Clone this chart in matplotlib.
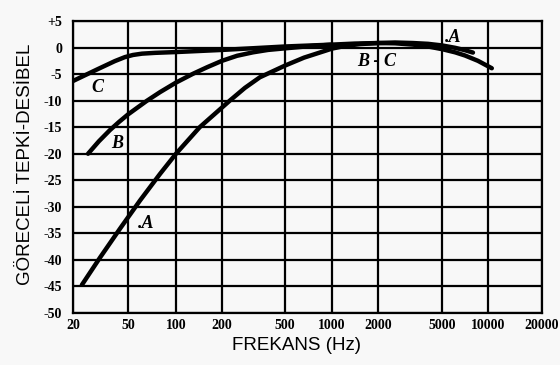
import matplotlib
matplotlib.use("Agg")
import numpy as np
import matplotlib.pyplot as plt
from matplotlib.ticker import FixedLocator, NullLocator

# x ticks (Hz) and y ticks (dB)
freq_ticks = [20, 50, 100, 200, 500, 1000, 2000, 5000, 10000, 20000]
freq_labels = ["20", "50", "100", "200", "500", "1000", "2000", "5000", "10000", "20000"]
db_ticks = [5, 0, -5, -10, -15, -20, -25, -30, -35, -40, -45, -50]
db_labels = ["+5", "0", "-5", "-10", "-15", "-20", "-25", "-30", "-35", "-40", "-45", "-50"]

# curve A
freq_a = [23.2, 31.3, 43.8, 59.5, 79.4, 100, 143, 224, 279, 347, 500, 662, 1000,
          1216, 1525, 2000, 2550, 3300, 4090, 5000, 6090, 7070, 7970]
db_a = [-44.7, -39.6, -34.1, -28.8, -23.8, -20.0, -15.0, -10.0, -7.6, -5.6, -3.4, -1.9, -0.2,
        0.3, 0.65, 0.85, 0.95, 0.85, 0.7, 0.4, -0.05, -0.5, -0.95]

# curve B (runs into C above ~1 kHz)
freq_b = [25.7, 30.8, 37.0, 43.1, 50, 65.5, 79.4, 100, 129, 160, 200, 249, 314, 390, 500, 712, 1000]
db_b = [-20.0, -17.65, -15.55, -14.0, -12.6, -10.05, -8.4, -6.6, -4.95, -3.7, -2.5, -1.55,
        -0.9, -0.45, -0.15, 0.25, 0.55]

# curve C
freq_c = [20, 30.3, 40.2, 47.5, 53.7, 61.2, 73.8, 100, 200, 500, 1000, 1414, 2000, 2550,
          3300, 4090, 5000, 6090, 7070, 8590, 10500]
db_c = [-6.3, -4.05, -2.55, -1.8, -1.4, -1.15, -1.0, -0.85, -0.45, 0.2, 0.55, 0.75, 0.85, 0.8,
        0.55, 0.2, -0.3, -0.9, -1.5, -2.5, -3.9]

# the printed frequency axis is hand drawn, its decades are not evenly spaced:
# gridline offsets (px from the left edge) for each tick
grid_pos = [0, 55, 103, 149, 212, 259, 305, 369, 415, 469]
log_t = np.log10([2] + freq_ticks + [200000])
pos_t = np.array([-156] + grid_pos + [625], dtype=float)


def fwd(f):
    f = np.clip(np.asarray(f, dtype=float), 2, 200000)
    return np.interp(np.log10(f), log_t, pos_t)


def inv(p):
    return 10 ** np.interp(p, pos_t, log_t)


bg = "#f8f8f8"
num_font = dict(family="Liberation Serif", weight="bold")
lab_font = dict(family="Liberation Serif", weight="bold", style="italic")

fig = plt.figure(figsize=(5.6, 3.65), dpi=100, facecolor=bg)
ax = fig.add_axes([73 / 560, 1 - 313 / 365, 469 / 560, 292 / 365], facecolor=bg)

for f, d in [(freq_a, db_a), (freq_b, db_b), (freq_c, db_c)]:
    ax.plot(f, d, color="black", lw=3.2, solid_capstyle="round",
            solid_joinstyle="round", zorder=3)

ax.set_xscale("function", functions=(fwd, inv))
ax.set_xlim(20, 20000)
ax.set_ylim(-50, 5)
ax.xaxis.set_major_locator(FixedLocator(freq_ticks))
ax.xaxis.set_minor_locator(NullLocator())
ax.set_xticklabels(freq_labels, fontsize=10, **num_font)
ax.set_yticks(db_ticks)
ax.set_yticklabels(db_labels, fontsize=10, **num_font)
ax.tick_params(length=0)
ax.tick_params(axis="y", pad=8)
ax.tick_params(axis="x", pad=4)
ax.grid(True, color="black", lw=1.6)
for s in ax.spines.values():
    s.set_linewidth(1.6)

# curve names
ax.text(30, -7.5, "C", fontsize=13, ha="center", va="center", **lab_font)
ax.text(42, -18.1, "B", fontsize=13, ha="center", va="center", **lab_font)
ax.text(65, -33.1, ".A", fontsize=13, ha="center", va="center", **lab_font)
ax.text(1950, -2.7, "B - C", fontsize=13, ha="center", va="center", **lab_font)
ax.text(5900, 1.8, ".A", fontsize=13, ha="center", va="center", **lab_font)

ax.set_xlabel("FREKANS (Hz)", fontsize=13.5, family="Liberation Sans")
ax.set_ylabel("GÖRECELİ TEPKİ-DESİBEL", fontsize=13.5, family="Liberation Sans")
ax.xaxis.label.set_va("center")
ax.yaxis.label.set_va("center")
ax.xaxis.set_label_coords(0.4765, -0.113)
ax.yaxis.set_label_coords(-0.102, 0.51)

fig.savefig("out.png", dpi=100, facecolor=bg)
